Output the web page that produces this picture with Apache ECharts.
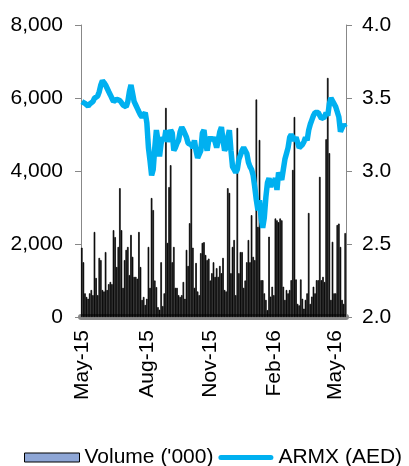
<!DOCTYPE html>
<html>
<head>
<meta charset="utf-8">
<script src="https://cdn.jsdelivr.net/npm/echarts@6/dist/echarts.min.js"></script>
<style>
  html, body { margin: 0; padding: 0; background: #fff; }
  #chart { width: 409px; height: 466px; }
</style>
</head>
<body>
<div id="chart"></div>
<script>
// daily volume ('000)
var volume = [
  1900,1500,650,550,500,650,740,600,2330,1070,600,1620,1560,740,700,1780,740,900,960,900,
  2380,2190,1370,1920,3530,2380,800,1560,1840,1920,1150,2250,1650,1100,1100,1050,2330,1370,470,550,
  330,500,1920,800,3260,2930,1000,820,270,200,1500,300,650,5730,2030,3560,4160,1500,1920,800,
  800,600,550,600,960,500,1840,1400,2570,4650,1900,800,1480,700,600,1750,2030,2050,1700,1560,
  1600,1000,1200,
  1500,1100,1340,1100,1400,1200,1620,740,700,3530,3400,1200,1920,2110,600,5180,1200,1780,1780,800,
  1000,1500,2110,1500,2790,1650,1560,5960,2470,4850,1010,1010,650,470,190,2200,560,830,600,2700,
  2650,2600,
  2700,2650,830,470,740,650,740,1010,4030,5480,1030,360,320,1030,500,230,470,650,2850,360,
  560,830,650,1010,1010,3840,1010,1100,960,4870,6550,4490,470,2060,650,650,2520,2560,1920,470,
  360,2300
];

// ARMX share price (AED)
var armx = [
  3.475,3.468,3.463,3.452,3.445,3.459,3.468,3.475,3.498,3.509,3.514,3.543,3.589,3.619,3.605,3.589,3.577,3.543,3.521,3.498,
  3.475,3.463,3.491,3.482,3.482,3.468,3.452,3.44,3.44,3.475,3.543,3.589,3.532,3.475,3.452,3.429,3.406,3.384,3.368,3.377,
  3.40,3.33,3.16,3.07,2.97,3.01,3.16,3.28,3.21,3.10,3.19,3.23,3.21,3.28,3.20,3.19,3.28,3.26,3.14,3.16,
  3.19,3.21,3.27,3.30,3.28,3.27,3.23,3.19,3.18,3.18,3.16,3.21,3.14,3.09,3.08,3.14,3.26,3.28,3.19,3.14,
  3.21,3.23,3.21,
  3.23,3.20,3.16,3.21,3.27,3.30,3.21,3.14,3.16,3.23,3.28,3.14,3.03,3.01,2.99,3.01,3.08,3.11,3.14,3.16,
  3.16,3.12,3.06,3.03,3.01,2.97,2.89,2.80,2.73,2.80,2.68,2.61,2.68,2.82,2.92,2.95,2.89,2.94,2.92,2.95,
  2.87,2.99,
  2.96,2.94,3.01,3.08,3.12,3.16,3.23,3.25,3.23,3.21,3.23,3.23,3.16,3.16,3.18,3.20,3.23,3.21,3.28,3.32,
  3.35,3.38,3.40,3.40,3.40,3.40,3.36,3.35,3.37,3.40,3.38,3.46,3.50,3.50,3.46,3.44,3.44,3.37,3.27,3.28,
  3.32,3.30
];

var tickLabels = ['May-15', 'Aug-15', 'Nov-15', 'Feb-16', 'May-16'];

// dates for the points, from 1 May 2015 on
var months = ['Jan','Feb','Mar','Apr','May','Jun','Jul','Aug','Sep','Oct','Nov','Dec'];
var dates = [];
var start = Date.UTC(2015, 4, 1);
for (var i = 0; i < volume.length; i++) {
  var d = new Date(start + i * 2.29 * 86400000);
  dates.push(months[d.getUTCMonth()] + '-' + String(d.getUTCFullYear()).slice(2));
}

function showLabel(index, value) {
  return tickLabels.indexOf(value) >= 0 && (index == 0 || dates[index - 1] != value);
}

var font = 'Liberation Sans, Arial, sans-serif';
var myChart = echarts.init(document.getElementById('chart'));

option = {
  animation: false,
  textStyle: { fontFamily: font, color: '#000' },
  grid: { left: 81, right: 63, top: 25, bottom: 149 },
  legend: {
    left: 19,
    top: 442,
    itemGap: 5,
    itemWidth: 55,
    itemHeight: 9,
    textStyle: { fontFamily: font, fontSize: 21, color: '#000' },
    data: [
      { name: "Volume ('000)", icon: 'rect',
        itemStyle: { color: '#8EA6D6', borderColor: '#000', borderWidth: 1 } },
      { name: 'ARMX (AED)', icon: 'path://M2.5,0H52.5A2.5,2.5 0 0 1 52.5,5H2.5A2.5,2.5 0 0 1 2.5,0Z',
        itemStyle: { color: '#00B0F0' } }
    ]
  },
  xAxis: {
    type: 'category',
    data: dates,
    boundaryGap: true,
    offset: 3,
    axisLine: { lineStyle: { color: '#888', width: 6 } },
    axisTick: { show: false },
    axisLabel: {
      interval: showLabel,
      rotate: 90,
      margin: 10,
      fontSize: 21,
      fontFamily: font,
      color: '#000'
    }
  },
  yAxis: [
    {
      type: 'value',
      min: 0,
      max: 8000,
      interval: 2000,
      splitLine: { show: false },
      axisLine: { show: true, lineStyle: { color: '#888' } },
      axisTick: { show: true, length: 6, lineStyle: { color: '#888' } },
      axisLabel: {
        margin: 18,
        fontSize: 21,
        fontFamily: font,
        color: '#000',
        formatter: function(v) { return v.toLocaleString('en-US'); }
      }
    },
    {
      type: 'value',
      min: 2,
      max: 4,
      interval: 0.5,
      splitLine: { show: false },
      axisLine: { show: true, lineStyle: { color: '#888' } },
      axisTick: { show: true, length: 6, lineStyle: { color: '#888' } },
      axisLabel: {
        margin: 16,
        fontSize: 21,
        fontFamily: font,
        color: '#000',
        formatter: function(v) { return v.toFixed(1); }
      }
    }
  ],
  series: [
    {
      name: "Volume ('000)",
      type: 'bar',
      yAxisIndex: 0,
      data: volume,
      barCategoryGap: '0%',
      itemStyle: { color: '#000', borderColor: '#000', borderWidth: 0.7 }
    },
    {
      name: 'ARMX (AED)',
      type: 'line',
      yAxisIndex: 1,
      data: armx,
      showSymbol: false,
      z: 5,
      lineStyle: { color: '#00B0F0', width: 5.5 },
      itemStyle: { color: '#00B0F0' }
    }
  ]
};
myChart.setOption(option);
</script>
</body>
</html>
